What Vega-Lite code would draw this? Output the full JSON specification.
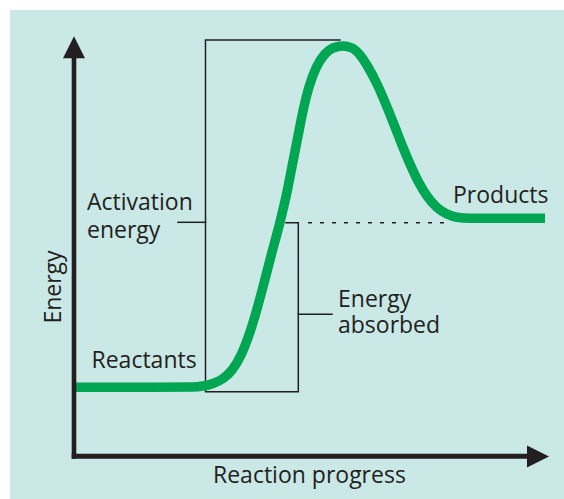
{
  "$schema": "https://vega.github.io/schema/vega-lite/v6.json",
  "width": 564,
  "height": 499,
  "autosize": "none",
  "padding": 0,
  "background": "white",
  "config": {"view": {"stroke": null}, "axis": {"disable": true}},
  "datasets": {
    "panel": [{"x1": 10, "x2": 564, "y1": 10, "y2": 499}],
    "axes": [
      {"x1": 74, "y1": 57, "x2": 74, "y2": 458.7, "w": 4.6},
      {"x1": 71.7, "y1": 456.2, "x2": 528, "y2": 456.2, "w": 5}
    ],
    "arrows": [
      {"x": 74, "y": 47.2, "dir": "up"},
      {"x": 538, "y": 456.5, "dir": "right"}
    ],
    "curve": [
      {"x": 75, "y": 387.3}, {"x": 150, "y": 387.3}, {"x": 192, "y": 387}, {"x": 203, "y": 386},
      {"x": 213, "y": 383.5}, {"x": 223, "y": 378.5}, {"x": 232, "y": 370}, {"x": 241, "y": 355},
      {"x": 250, "y": 332}, {"x": 257, "y": 309}, {"x": 264, "y": 283}, {"x": 271, "y": 256},
      {"x": 280, "y": 222}, {"x": 287, "y": 192}, {"x": 292.5, "y": 164}, {"x": 298, "y": 136},
      {"x": 303, "y": 111}, {"x": 309, "y": 87}, {"x": 316.5, "y": 67}, {"x": 325, "y": 54},
      {"x": 333, "y": 48}, {"x": 343, "y": 46}, {"x": 352, "y": 48}, {"x": 360, "y": 55},
      {"x": 368, "y": 67}, {"x": 377, "y": 84}, {"x": 387, "y": 107}, {"x": 395, "y": 127},
      {"x": 402, "y": 145}, {"x": 410, "y": 164}, {"x": 418, "y": 181}, {"x": 427, "y": 196},
      {"x": 437, "y": 207.5}, {"x": 447, "y": 214}, {"x": 457, "y": 217.3}, {"x": 470, "y": 218.3},
      {"x": 545, "y": 218.3}
    ],
    "brackets": [
      {"g": "box", "o": 1, "x": 340, "y": 40},
      {"g": "box", "o": 2, "x": 205.5, "y": 40},
      {"g": "box", "o": 3, "x": 205.5, "y": 391.7},
      {"g": "box", "o": 4, "x": 298.3, "y": 391.7},
      {"g": "box", "o": 5, "x": 298.3, "y": 222.7},
      {"g": "box", "o": 6, "x": 286, "y": 222.7},
      {"g": "tick1", "o": 1, "x": 178, "y": 222.3},
      {"g": "tick1", "o": 2, "x": 205.5, "y": 222.3},
      {"g": "tick2", "o": 1, "x": 298.3, "y": 314.3},
      {"g": "tick2", "o": 2, "x": 332, "y": 314.3}
    ],
    "dashed": [{"x": 308, "y": 222.7}, {"x": 450, "y": 222.7}],
    "labels": [
      {"t": "Activation", "x": 87, "y": 209.5},
      {"t": "energy", "x": 87, "y": 237.5},
      {"t": "Reactants", "x": 91.5, "y": 367.5},
      {"t": "Products", "x": 453, "y": 202.5},
      {"t": "Energy", "x": 338, "y": 307.3},
      {"t": "absorbed", "x": 338, "y": 332.7},
      {"t": "Reaction progress", "x": 213, "y": 482.7}
    ],
    "ylabel": [{"t": "Energy", "x": 60.7, "y": 287}]
  },
  "layer": [
    {
      "data": {"name": "panel"},
      "mark": {"type": "rect", "color": "#c9e8e6"},
      "encoding": {
        "x": {"field": "x1", "type": "quantitative", "scale": {"domain": [0, 564], "nice": false, "zero": false}},
        "x2": {"field": "x2"},
        "y": {"field": "y1", "type": "quantitative", "scale": {"domain": [0, 499], "nice": false, "zero": false, "reverse": true}},
        "y2": {"field": "y2"}
      }
    },
    {
      "data": {"name": "brackets"},
      "mark": {"type": "line", "color": "#231f20", "strokeWidth": 1.5, "strokeCap": "square"},
      "encoding": {
        "x": {"field": "x", "type": "quantitative"},
        "y": {"field": "y", "type": "quantitative"},
        "detail": {"field": "g"},
        "order": {"field": "o", "type": "quantitative"}
      }
    },
    {
      "data": {"name": "dashed"},
      "mark": {"type": "line", "color": "#231f20", "strokeWidth": 1.5, "strokeDash": [4, 8]},
      "encoding": {
        "x": {"field": "x", "type": "quantitative"},
        "y": {"field": "y", "type": "quantitative"}
      }
    },
    {
      "data": {"name": "curve"},
      "mark": {"type": "line", "color": "#00a651", "strokeWidth": 9.5, "interpolate": "monotone", "strokeCap": "butt"},
      "encoding": {
        "x": {"field": "x", "type": "quantitative"},
        "y": {"field": "y", "type": "quantitative"}
      }
    },
    {
      "data": {"name": "axes"},
      "mark": {"type": "rule", "color": "#231f20"},
      "encoding": {
        "x": {"field": "x1", "type": "quantitative"},
        "x2": {"field": "x2"},
        "y": {"field": "y1", "type": "quantitative"},
        "y2": {"field": "y2"},
        "strokeWidth": {"field": "w", "type": "quantitative", "scale": null}
      }
    },
    {
      "data": {"name": "arrows"},
      "mark": {"type": "point", "filled": true, "color": "#231f20", "opacity": 1, "size": 484, "strokeWidth": 0},
      "encoding": {
        "x": {"field": "x", "type": "quantitative"},
        "y": {"field": "y", "type": "quantitative"},
        "shape": {
          "field": "dir",
          "type": "nominal",
          "scale": {"domain": ["up", "right"], "range": ["M-1,1L1,1L0,-1Z", "M-1,-1L1,0L-1,1Z"]},
          "legend": null
        }
      }
    },
    {
      "data": {"name": "labels"},
      "mark": {"type": "text", "font": "Open Sans", "fontSize": 23, "color": "#231f20", "align": "left", "baseline": "alphabetic"},
      "encoding": {
        "x": {"field": "x", "type": "quantitative"},
        "y": {"field": "y", "type": "quantitative"},
        "text": {"field": "t"}
      }
    },
    {
      "data": {"name": "ylabel"},
      "mark": {"type": "text", "font": "Open Sans", "fontSize": 23, "color": "#231f20", "align": "center", "baseline": "alphabetic", "angle": 270},
      "encoding": {
        "x": {"field": "x", "type": "quantitative"},
        "y": {"field": "y", "type": "quantitative"},
        "text": {"field": "t"}
      }
    }
  ]
}
